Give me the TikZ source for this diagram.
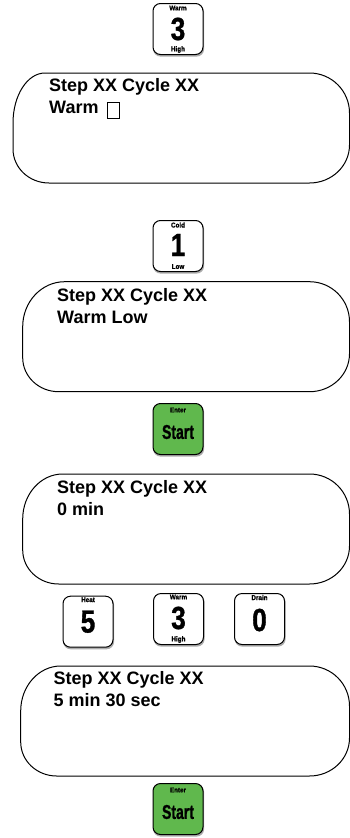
\documentclass[tikz,border=0pt]{standalone}
\usepackage{fontspec}
\setmainfont{Liberation Sans}
\newfontfamily\digitfont[FakeStretch=0.82,FakeBold=1]{Liberation Sans}
\newfontfamily\startfont[FakeStretch=0.7,FakeBold=1]{Liberation Sans}
\newfontfamily\labelfont[FakeStretch=0.9,FakeBold=1]{Liberation Sans}
\usetikzlibrary{calc,backgrounds}
\definecolor{keygreen}{RGB}{96,184,77}
\tikzset{
  lcdline/.style={draw=black, line width=1pt},
  lcdtext/.style={font=\fontsize{18}{18}\selectfont\bfseries, anchor=base west, inner sep=0pt},
  keybox/.style={draw=black, line width=1pt, rounded corners=7.5pt, minimum width=50pt, minimum height=51pt, fill=white, inner sep=0pt},
  startkey/.style={keybox, fill=keygreen},
  keylabel/.style={font=\labelfont\fontsize{7}{7}\selectfont\bfseries, inner sep=0pt},
  digit/.style={font=\digitfont\fontsize{32}{32}\selectfont\bfseries, inner sep=0pt},
  starttext/.style={font=\startfont\fontsize{20}{20}\selectfont\bfseries, inner sep=0pt},
  cursorbox/.style={draw=black, line width=1.4pt, minimum width=12pt, minimum height=16pt, inner sep=0pt, anchor=north west},
}
% L T R B rxTL ryTL
\newcommand\lcdpath[6]{%
  \draw[lcdline] (#1,#2+#6) .. controls (#1,#2+0.448*#6) and (#1+0.448*#5,#2) .. (#1+#5,#2)
    -- (#3-40,#2) .. controls (#3-17.9,#2) and (#3,#2+17.9) .. (#3,#2+40)
    -- (#3,#4-38) .. controls (#3,#4-17) and (#3-17.9,#4) .. (#3-40,#4)
    -- (#1+36,#4) .. controls (#1+16.1,#4) and (#1,#4-15.2) .. (#1,#4-34) -- cycle;}
\newcommand\keyshadow[1]{%
  \begin{pgfonlayer}{background}
    \fill[gray!65, rounded corners=7.5pt] ($(#1.south west)+(0.6,1.6)$) rectangle ($(#1.north east)+(0.6,1.6)$);
  \end{pgfonlayer}}
\begin{document}
\begin{tikzpicture}[x=1pt,y=-1pt]
\useasboundingbox (0,0) rectangle (350,838);

% key 1: Warm 3 High
\node[keybox] (k1) at (178,29) {};
\node[digit] (k1d) at ($(k1.center)+(0,0)$) {3};
\node[keylabel] (k1t) at ($(k1.north)+(0,5)$) {Warm};
\node[keylabel] (k1b) at ($(k1.south)+(0,-5.5)$) {High};
\keyshadow{k1}

% display 1
\lcdpath{13}{73}{349.5}{183}{32}{50}
\node[lcdtext] (d1a) at (49,91) {Step XX Cycle XX};
\node[lcdtext] (d1b) at (49,113) {Warm};
\node[cursorbox] (cur) at (107,102) {};

% key 2: Cold 1 Low
\node[keybox] (k2) at (178,246) {};
\node[digit] (k2d) at ($(k2.center)+(0,-1)$) {1};
\node[keylabel] (k2t) at ($(k2.north)+(0,5)$) {Cold};
\node[keylabel] (k2b) at ($(k2.south)+(0,-5.5)$) {Low};
\keyshadow{k2}

% display 2
\lcdpath{22.7}{281.7}{349.5}{391.7}{42}{45}
\node[lcdtext] (d2a) at (57,301) {Step XX Cycle XX};
\node[lcdtext] (d2b) at (57,323) {Warm Low};

% key 3: Enter Start
\node[startkey] (k3) at (178,429) {};
\node[starttext] (k3d) at ($(k3.center)+(0,3)$) {Start};
\node[keylabel] (k3t) at ($(k3.north)+(0,7)$) {Enter};
\keyshadow{k3}

% display 3
\lcdpath{22.7}{474}{349.5}{584}{40}{45}
\node[lcdtext] (d3a) at (57,493) {Step XX Cycle XX};
\node[lcdtext] (d3b) at (57,515) {0 min};

% key row
\node[keybox] (k4) at (88,621.7) {};
\node[digit] (k4d) at ($(k4.center)+(0,0)$) {5};
\node[keylabel] (k4t) at ($(k4.north)+(0,4)$) {Heat};
\keyshadow{k4}

\node[keybox] (k5) at (178.5,619) {};
\node[digit] (k5d) at ($(k5.center)+(0,-1)$) {3};
\node[keylabel] (k5t) at ($(k5.north)+(0,4)$) {Warm};
\node[keylabel] (k5b) at ($(k5.south)+(0,-5.5)$) {High};
\keyshadow{k5}

\node[keybox] (k6) at (259.5,619) {};
\node[digit] (k6d) at ($(k6.center)+(0,1)$) {0};
\node[keylabel] (k6t) at ($(k6.north)+(0,4.5)$) {Drain};
\keyshadow{k6}

% display 4
\lcdpath{20.7}{666}{349.5}{776}{40}{45}
\node[lcdtext] (d4a) at (53.5,684.5) {Step XX Cycle XX};
\node[lcdtext] (d4b) at (53.5,706.5) {5 min 30 sec};

% key 7: Enter Start
\node[startkey] (k7) at (178,809) {};
\node[starttext] (k7d) at ($(k7.center)+(0,3)$) {Start};
\node[keylabel] (k7t) at ($(k7.north)+(0,7)$) {Enter};
\keyshadow{k7}
\end{tikzpicture}
\end{document}
